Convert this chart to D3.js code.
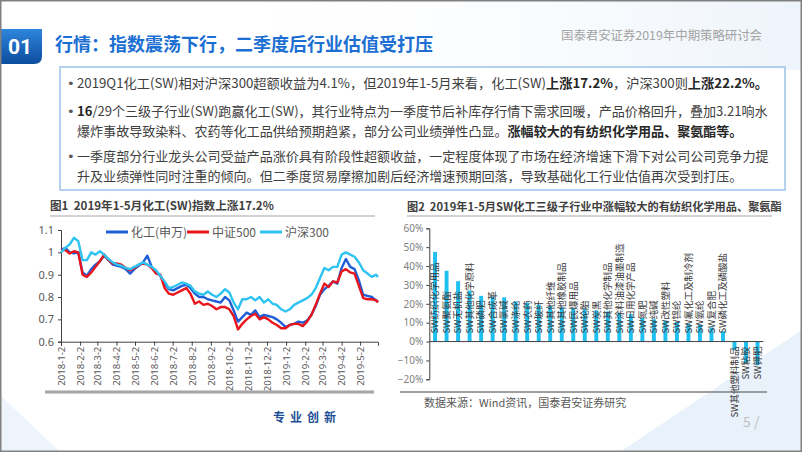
<!DOCTYPE html>
<html><head><meta charset="utf-8">
<script src="https://cdn.jsdelivr.net/npm/d3@7"></script>
<style>
body{margin:0;background:#fff;}
svg{display:block;font-family:"Noto Sans CJK SC","Noto Sans",sans-serif;}
</style>
</head><body>
<svg id="c" width="802" height="452"></svg>
<script>
// ---------------- DATA ----------------
const lineDates = ["2018-01-02","2018-01-09","2018-01-16","2018-01-23","2018-01-30","2018-02-06","2018-02-13","2018-02-20","2018-02-27",
"2018-03-06","2018-03-13","2018-03-20","2018-03-27","2018-04-03","2018-04-10","2018-04-17","2018-04-24","2018-05-01","2018-05-08",
"2018-05-15","2018-05-22","2018-05-29","2018-06-05","2018-06-12","2018-06-19","2018-06-26","2018-07-03","2018-07-10","2018-07-17",
"2018-07-24","2018-07-31","2018-08-07","2018-08-14","2018-08-21","2018-08-28","2018-09-04","2018-09-11","2018-09-18","2018-09-25",
"2018-10-02","2018-10-09","2018-10-16","2018-10-23","2018-10-30","2018-11-06","2018-11-13","2018-11-20","2018-11-27","2018-12-04",
"2018-12-11","2018-12-18","2018-12-25","2019-01-01","2019-01-08","2019-01-15","2019-01-22","2019-01-29","2019-02-05","2019-02-12",
"2019-02-19","2019-02-26","2019-03-05","2019-03-12","2019-03-19","2019-03-26","2019-04-02","2019-04-09","2019-04-16","2019-04-23",
"2019-04-30","2019-05-07","2019-05-14","2019-05-21","2019-05-28","2019-05-31"];

const chemSW = [1.01,1.02,1.0,0.995,1.0,0.91,0.895,0.925,0.945,0.96,0.985,0.965,0.945,0.94,0.935,0.925,0.905,0.925,0.94,
0.955,0.985,0.935,0.915,0.895,0.86,0.835,0.83,0.84,0.85,0.855,0.84,0.815,0.80,0.80,0.79,0.785,0.78,0.775,0.80,
0.785,0.74,0.69,0.71,0.73,0.72,0.74,0.71,0.72,0.715,0.71,0.70,0.685,0.665,0.675,0.68,0.69,0.685,0.695,0.72,
0.76,0.81,0.835,0.85,0.87,0.86,0.93,0.97,0.935,0.925,0.875,0.81,0.805,0.80,0.785,0.78];

const csi500 = [1.01,1.01,0.995,1.005,1.0,0.90,0.89,0.91,0.935,0.96,0.99,0.965,0.95,0.95,0.945,0.93,0.92,0.93,0.945,
0.95,0.945,0.93,0.905,0.90,0.84,0.815,0.81,0.82,0.83,0.84,0.815,0.77,0.78,0.765,0.77,0.76,0.745,0.755,0.755,
0.745,0.715,0.655,0.68,0.70,0.715,0.725,0.70,0.71,0.70,0.685,0.675,0.66,0.66,0.675,0.68,0.68,0.67,0.69,0.72,
0.765,0.815,0.86,0.845,0.87,0.865,0.915,0.925,0.91,0.905,0.85,0.795,0.79,0.79,0.785,0.775];

const hs300 = [1.0,1.02,1.035,1.065,1.05,0.965,0.965,1.0,0.99,1.005,0.99,0.97,0.955,0.945,0.94,0.93,0.925,0.935,0.945,
0.955,0.945,0.935,0.92,0.895,0.87,0.84,0.845,0.855,0.865,0.86,0.85,0.825,0.815,0.81,0.825,0.81,0.80,0.815,0.835,
0.82,0.775,0.745,0.79,0.79,0.80,0.785,0.80,0.775,0.79,0.77,0.765,0.745,0.735,0.745,0.765,0.775,0.785,0.795,0.81,
0.84,0.885,0.93,0.92,0.935,0.935,0.99,1.0,0.99,0.98,0.955,0.92,0.905,0.89,0.90,0.89];

const lineSeriesNames = ["化工(申万)","中证500","沪深300"];
const lineColors = ["#1f5ed6","#e8161c","#2ec3f0"];
const xTickLabels = ["2018-1-2","2018-2-2","2018-3-2","2018-4-2","2018-5-2","2018-6-2","2018-7-2","2018-8-2","2018-9-2",
"2018-10-2","2018-11-2","2018-12-2","2019-1-2","2019-2-2","2019-3-2","2019-4-2","2019-5-2"];
const yTicks1 = [0.6,0.7,0.8,0.9,1,1.1];

const barCategories = ["SW纺织化学用品","SW聚氨酯","SW无机盐","SW其他化学原料","SW磷肥","SW合成革","SW氯碱","SW涤纶","SW农药","SW玻纤",
"SW其他纤维","SW其他橡胶制品","SW民爆用品","SW轮胎","SW炭黑","SW其他化学制品","SW涂料油漆油墨制造","SW日用化学产品","SW氮肥","SW纯碱",
"SW改性塑料","SW锦纶","SW氟化工及制冷剂","SW氨纶","SW复合肥","SW磷化工及磷酸盐","SW其他塑料制品","SW粘胶","SW钾肥"];
const barValues = [0.475,0.375,0.32,0.27,0.242,0.238,0.234,0.213,0.206,0.196,
0.188,0.182,0.178,0.172,0.165,0.16,0.152,0.145,0.125,0.118,
0.11,0.105,0.095,0.09,0.075,0.055,-0.045,-0.115,-0.125];
const yTicks2 = [-0.2,-0.1,0,0.1,0.2,0.3,0.4,0.5,0.6];

const bulletLines = [
  [["2019Q1化工(SW)相对沪深300超额收益为4.1%，但2019年1-5月来看，化工(SW)",0],["上涨17.2%",1],["，沪深300则",0],["上涨22.2%。",1]],
  [["16",1],["/29个三级子行业(SW)跑赢化工(SW)，其行业特点为一季度节后补库存行情下需求回暖，产品价格回升，叠加3.21响水",0]],
  [["爆炸事故导致染料、农药等化工品供给预期趋紧，部分公司业绩弹性凸显。",0],["涨幅较大的有纺织化学用品、聚氨酯等。",1]],
  [["一季度部分行业龙头公司受益产品涨价具有阶段性超额收益，一定程度体现了市场在经济增速下滑下对公司公司竞争力提",0]],
  [["升及业绩弹性同时注重的倾向。但二季度贸易摩擦加剧后经济增速预期回落，导致基础化工行业估值再次受到打压。",0]]
];
const bulletFlags = [true,true,false,true,false];
const lineWidths = [691,null,null,null,null];

// ---------------- DRAW ----------------
const svg = d3.select("#c");
const defs = svg.append("defs");
const g1 = defs.append("linearGradient").attr("id","boxg").attr("x1",0).attr("y1",0).attr("x2",0).attr("y2",1);
g1.append("stop").attr("offset","0").attr("stop-color","#2f86dc");
g1.append("stop").attr("offset","1").attr("stop-color","#0c4c9e");
const g2 = defs.append("linearGradient").attr("id","bgg").attr("x1",0).attr("y1",0).attr("x2",1).attr("y2",0);
g2.append("stop").attr("offset","0").attr("stop-color","#ffffff").attr("stop-opacity",0);
g2.append("stop").attr("offset","1").attr("stop-color","#e6eff9").attr("stop-opacity",1);

svg.append("rect").attr("width",802).attr("height",452).attr("fill","#fff");
svg.append("path").attr("d","M250,0 L802,0 L802,70 L200,70 Z").attr("fill","url(#bgg)").attr("opacity",0.7);
svg.append("path").attr("d","M620,452 L802,330 L802,452 Z").attr("fill","#e9f1fa");
svg.append("path").attr("d","M0,395 L60,452 L0,452 Z").attr("fill","#eef4fb");

// header
svg.append("path").attr("d","M0,29 L42,29 L42,56 Q42,64 34,64 L0,64 Z").attr("fill","url(#boxg)");
svg.append("text").attr("x",20).attr("y",54).attr("text-anchor","middle").attr("fill","#fff")
  .attr("font-size",21).attr("font-weight","bold").attr("font-family","Roboto,'Noto Sans',sans-serif").text("01");
svg.append("text").attr("x",55).attr("y",51).attr("fill","#1c6fd2").attr("font-size",18).attr("font-weight","bold")
  .text("行情：指数震荡下行，二季度后行业估值受打压");
svg.append("text").attr("x",561).attr("y",39.5).attr("fill","#a3a3a3").attr("font-size",12.4)
  .text("国泰君安证券2019年中期策略研讨会");

// text box
svg.append("rect").attr("x",60).attr("y",67).attr("width",725).attr("height",123)
  .attr("fill","#fff").attr("fill-opacity",0.6).attr("stroke","#9cc3e8").attr("stroke-width",1.5);
const lineYs = [88,116,135.5,161,180.5];
bulletLines.forEach((segs,i)=>{
  if(bulletFlags[i]) svg.append("text").attr("x",67).attr("y",lineYs[i]).attr("fill","#595959")
    .attr("font-size",13).attr("font-family","'DejaVu Sans',sans-serif").text("•");
  const t = svg.append("text").attr("x",77).attr("y",lineYs[i]).attr("fill","#404040").attr("font-size",13.05);
  if(lineWidths[i]) t.attr("textLength",lineWidths[i]).attr("lengthAdjust","spacingAndGlyphs");
  segs.forEach(s=>t.append("tspan").attr("font-weight",s[1]?"bold":"normal").attr("fill",s[1]?"#262626":"#404040").text(s[0]));
});

// ---------- Chart 1 ----------
const parse = d3.timeParse("%Y-%m-%d");
const dates = lineDates.map(parse);
const x1 = d3.scaleTime().domain([parse("2018-01-02"), parse("2019-05-31")]).range([61,378]);
const y1 = d3.scaleLinear().domain([0.6,1.1]).range([341.7,230]);

svg.append("text").attr("x",50).attr("y",210).attr("fill","#404040").attr("font-size",11.6).attr("font-weight","bold")
  .attr("xml:space","preserve").text("图1  2019年1-5月化工(SW)指数上涨17.2%");
svg.append("line").attr("x1",50).attr("x2",375).attr("y1",216).attr("y2",216).attr("stroke","#a6a6a6").attr("stroke-width",1);

const yAx1 = svg.append("g").attr("transform","translate(61,0)")
  .call(d3.axisLeft(y1).tickValues(yTicks1).tickSize(3).tickFormat(d3.format("")));
yAx1.select(".domain").attr("stroke","#404040");
yAx1.selectAll("line").attr("stroke","#404040");
yAx1.selectAll("text").attr("fill","#595959").attr("font-size",11).attr("font-family","'Noto Sans',sans-serif").attr("x",-7);

const xTickDates = xTickLabels.map(s=>d3.timeParse("%Y-%m-%d")(s));
const xAx1 = svg.append("g").attr("transform","translate(0,341.7)")
  .call(d3.axisBottom(x1).tickValues(xTickDates).tickSize(4).tickFormat((d,i)=>xTickLabels[i]));
xAx1.select(".domain").attr("stroke","#404040");
xAx1.selectAll("line").attr("stroke","#404040");
xAx1.selectAll("text").attr("fill","#595959").attr("font-size",9.6).attr("font-family","'Noto Sans',sans-serif")
  .attr("transform","rotate(-90)").attr("text-anchor","end").attr("x",-5).attr("y",0).attr("dy","0.35em");

const seriesData = [chemSW, csi500, hs300];
const lineGen = d3.line().x((d,i)=>x1(dates[i])).y(d=>y1(d)).curve(d3.curveLinear);
seriesData.forEach((s,k)=>{
  svg.append("path").datum(s).attr("d",lineGen).attr("fill","none").attr("stroke",lineColors[k])
    .attr("stroke-width",2.4).attr("stroke-linejoin","round");
});

// legend
const legX = [106,187,260];
lineSeriesNames.forEach((n,k)=>{
  svg.append("line").attr("x1",legX[k]).attr("x2",legX[k]+22).attr("y1",232).attr("y2",232)
    .attr("stroke",lineColors[k]).attr("stroke-width",3);
  svg.append("text").attr("x",legX[k]+25).attr("y",236.5).attr("fill","#595959").attr("font-size",12).text(n);
});

svg.append("line").attr("x1",45).attr("x2",374).attr("y1",392).attr("y2",392).attr("stroke","#a6a6a6").attr("stroke-width",3);

// ---------- Chart 2 ----------
svg.append("text").attr("x",407).attr("y",210.5).attr("fill","#404040").attr("font-size",11.2).attr("font-weight","bold")
  .attr("xml:space","preserve").text("图2  2019年1-5月SW化工三级子行业中涨幅较大的有纺织化学用品、聚氨酯");
svg.append("line").attr("x1",407).attr("x2",772).attr("y1",216).attr("y2",216).attr("stroke","#a6a6a6").attr("stroke-width",1);

const xb = d3.scaleBand().domain(barCategories).range([429.3,763.3]).paddingInner(0.66).paddingOuter(0.33);
const yb = d3.scaleLinear().domain([-0.2,0.6]).range([379.3,228.3]);

const yAx2 = svg.append("g").attr("transform","translate(429.3,0)")
  .call(d3.axisLeft(yb).tickValues(yTicks2).tickSize(3).tickFormat(d3.format(".0%")));
yAx2.select(".domain").attr("stroke","#404040");
yAx2.selectAll("line").attr("stroke","#404040");
yAx2.selectAll("text").attr("fill","#7f7f7f").attr("font-size",10).attr("font-family","'Noto Sans',sans-serif").attr("x",-6);

svg.append("g").selectAll("rect").data(barValues).join("rect")
  .attr("x",(d,i)=>xb(barCategories[i])).attr("width",xb.bandwidth())
  .attr("y",d=>yb(Math.max(0,d))).attr("height",d=>Math.abs(yb(d)-yb(0)))
  .attr("fill","#1fbff0");

svg.append("line").attr("x1",429.3).attr("x2",763.3).attr("y1",yb(0)).attr("y2",yb(0)).attr("stroke","#404040").attr("stroke-width",1);

svg.append("g").selectAll("text").data(barValues).join("text")
  .attr("transform",(d,i)=>{
    const cx = xb(barCategories[i]) + xb.bandwidth()/2;
    const yy = d>=0 ? yb(0)-8 : yb(0)+5;
    return `translate(${cx},${yy}) rotate(-90)`;
  })
  .attr("text-anchor",d=>d>=0?"start":"end").attr("dy","0.35em")
  .attr("font-size",9.5).attr("fill","#3a3a3a")
  .text((d,i)=>barCategories[i]);

svg.append("line").attr("x1",400).attr("x2",767).attr("y1",392).attr("y2",392).attr("stroke","#7f7f7f").attr("stroke-width",1.5);
svg.append("text").attr("x",424).attr("y",407).attr("fill","#595959").attr("font-size",11).text("数据来源：Wind资讯，国泰君安证券研究");

// footer
svg.append("text").attr("x",273).attr("y",421.5).attr("fill","#1d4f96").attr("font-size",12).attr("font-weight","bold")
  .attr("letter-spacing","5").text("专业创新");
svg.append("text").attr("x",743).attr("y",427).attr("fill","#bfbfbf").attr("font-size",14).attr("xml:space","preserve").text("5 /");

// slide frame
svg.append("rect").attr("x",0.75).attr("y",0.75).attr("width",800.5).attr("height",450.5)
  .attr("fill","none").attr("stroke","#808080").attr("stroke-width",1.5);
</script>
</body></html>
